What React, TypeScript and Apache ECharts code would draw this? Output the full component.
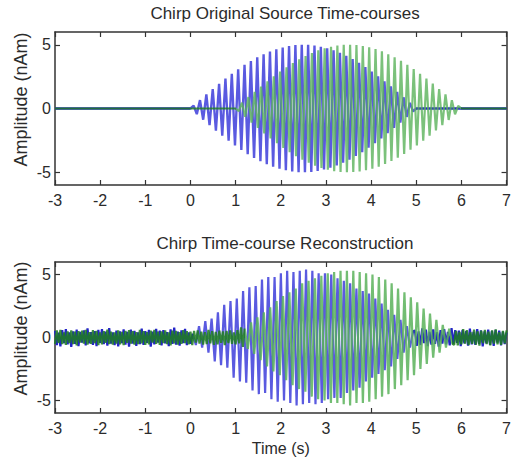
import React, { useEffect, useRef } from "react";
import * as echarts from "echarts";

// ---------- text ----------
const topTitle = "Chirp Original Source Time-courses";
const bottomTitle = "Chirp Time-course Reconstruction";
const yName = "Amplitude (nAm)";
const xName = "Time (s)";

// ---------- axes ----------
const xTicks = [-3, -2, -1, 0, 1, 2, 3, 4, 5, 6, 7];
const yTicks = [-5, 0, 5];
const xRange = [xTicks[0], xTicks[xTicks.length - 1]];
const yRange = [-6, 6];

// ---------- top panel (original sources) ----------
// blue source: flat, then chirp on [0, 5] (extrema), then flat
const blueTopSpan = [0, 5];
const blueTopChirp = [
  0, 0.22, -0.44, 0.66, -0.88, 1.1, -1.31, 1.52, -1.73, 1.94, -2.14, 2.34, -2.53, 2.72, -2.9, 3.08,
  -3.25, 3.42, -3.58, 3.73, -3.87, 4.01, -4.13, 4.25, -4.37, 4.47, -4.57, 4.65, -4.73, 4.79, -4.85,
  4.9, -4.94, 4.97, -4.99, 5.0, -5.0, 4.99, -4.97, 4.94, -4.9, 4.85, -4.79, 4.73, -4.65, 4.57, -4.47,
  4.37, -4.25, 4.13, -4.01, 3.87, -3.73, 3.58, -3.42, 3.25, -3.08, 2.9, -2.72, 2.53, -2.34, 2.14,
  -1.94, 1.73, -1.52, 1.31, -1.1, 0.88, -0.66, 0.44, -0.22, 0,
];
// green source: chirp on [1, 6]
const greenTopSpan = [1, 6];
const greenTopChirp = [
  0, -0.2, 0.45, -0.65, 0.9, -1.1, 1.3, -1.53, 1.72, -1.95, 2.13, -2.35, 2.52, -2.73, 2.9, -3.1,
  3.24, -3.43, 3.57, -3.74, 3.86, -4.02, 4.12, -4.26, 4.36, -4.48, 4.56, -4.66, 4.72, -4.8, 4.84,
  -4.91, 4.93, -4.98, 4.99, -5.0, 5.0, -4.98, 4.97, -4.93, 4.9, -4.84, 4.8, -4.72, 4.66, -4.56, 4.48,
  -4.36, 4.26, -4.12, 4.02, -3.86, 3.74, -3.57, 3.43, -3.24, 3.1, -2.9, 2.73, -2.52, 2.35, -2.13,
  1.95, -1.72, 1.53, -1.3, 1.1, -0.9, 0.65, -0.45, 0.2, 0,
];

// ---------- bottom panel (reconstruction) ----------
const blueNoisePreSpan = [-3, 0];
const blueNoisePre = [
  0.52, -0.61, 0.38, -0.7, 0.58, -0.44, 0.66, -0.55, 0.41, -0.74, 0.49, -0.5, 0.63, -0.68, 0.45,
  -0.4, 0.57, -0.62, 0.72, -0.47, 0.43, -0.58, 0.51, -0.69, 0.6, -0.42, 0.67, -0.53, 0.46, -0.64,
  0.75, -0.49, 0.4, -0.6, 0.55, -0.71, 0.48, -0.45, 0.65, -0.57, 0.44, -0.73, 0.62, -0.48, 0.53,
  -0.66, 0.41, -0.52, 0.7, -0.59, 0.5, -0.43, 0.6, -0.72, 0.47, -0.55, 0.68, -0.4, 0.54, -0.63,
  0.58, -0.46, 0.42, -0.69, 0.64, -0.51, 0.78, -0.57, 0.46, -0.65, 0.56, -0.44, 0.69, -0.6, 0.4, -0.5,
];
const blueRecSpan = [0.05, 4.93];
const blueRecChirp = [
  0.3, -0.6, 0.9, -0.8, 1.3, -1.2, 1.5, -1.9, 2.0, -2.2, 2.6, -2.4, 2.9, -3.2, 3.1, -3.5, 3.7, -3.6,
  4.0, -4.2, 4.1, -4.5, 4.6, -4.4, 4.8, -4.9, 4.8, -5.1, 5.1, -5.0, 5.3, -5.2, 5.2, -5.4, 5.3, -5.3,
  5.4, -5.2, 5.3, -5.3, 5.1, -5.2, 5.1, -4.9, 5.0, -4.8, 4.7, -4.8, 4.5, -4.4, 4.3, -4.2, 3.9, -4.0,
  3.7, -3.5, 3.5, -3.2, 3.1, -2.9, 2.7, -2.6, 2.2, -2.3, 1.8, -1.7, 1.4, -1.2, 0.9, -0.8, 0.5,
];
const blueNoisePostSpan = [4.97, 7];
const blueNoisePost = [
  0.55, -0.66, 0.48, -0.6, 0.72, -0.44, 0.62, -0.69, 0.47, -0.57, 0.65, -0.51, 0.42, -0.73, 0.59,
  -0.49, 0.67, -0.55, 0.45, -0.63, 0.74, -0.52, 0.58, -0.43, 0.54, -0.68, 0.61, -0.47, 0.5, -0.64,
  0.7, -0.54, 0.44, -0.59, 0.66, -0.5, 0.57, -0.71, 0.49, -0.46, 0.63, -0.58, 0.52, -0.67, 0.6,
  -0.41, 0.55, -0.62, 0.46, -0.53, 0.4,
];
const greenNoisePreSpan = [-3, 1.16];
const greenNoisePre = [
  -0.5, 0.56, -0.42, 0.6, -0.53, 0.4, -0.58, 0.49, -0.44, 0.57, -0.52, 0.46, -0.62, 0.51, -0.4,
  0.55, -0.48, 0.6, -0.56, 0.43, -0.5, 0.58, -0.45, 0.53, -0.6, 0.41, -0.55, 0.5, -0.43, 0.62,
  -0.52, 0.47, -0.57, 0.4, -0.49, 0.56, -0.54, 0.44, -0.61, 0.52, -0.42, 0.58, -0.48, 0.5, -0.57,
  0.42, -0.53, 0.6, -0.46, 0.51, -0.59, 0.43, -0.55, 0.54, -0.4, 0.61, -0.5, 0.46, -0.58, 0.48,
  -0.44, 0.56, -0.53, 0.41, -0.62, 0.55, -0.47, 0.52, -0.57, 0.43, -0.51, 0.59, -0.45, 0.5, -0.55,
  0.46, -0.6, 0.53, -0.41, 0.57, -0.49, 0.47, -0.56, 0.42, -0.52, 0.6, -0.46, 0.51, -0.58, 0.44,
  -0.54, 0.55, -0.43, 0.49, -0.61, 0.52, -0.45, 0.57, -0.5, 0.41, -0.55, 0.58, -0.47, 0.8, -0.75,
];
const greenRecSpan = [1.2, 5.8];
const greenRecChirp = [
  0.7, -0.9, 1.2, -1.3, 1.6, -1.8, 2.0, -2.3, 2.4, -2.7, 2.9, -3.0, 3.3, -3.4, 3.6, -3.8, 3.9, -4.1,
  4.3, -4.3, 4.5, -4.7, 4.7, -4.9, 4.9, -5.0, 5.1, -5.2, 5.2, -5.2, 5.3, -5.3, 5.3, -5.4, 5.3, -5.2,
  5.2, -5.2, 5.1, -5.1, 5.0, -4.9, 4.8, -4.7, 4.6, -4.5, 4.3, -4.1, 3.9, -3.8, 3.6, -3.4, 3.2, -3.0,
  2.8, -2.5, 2.3, -2.1, 1.9, -1.6, 1.4, -1.2, 1.0, -0.8, 0.7, -0.5,
];
const greenNoisePostSpan = [5.84, 7];
const greenNoisePost = [
  -0.58, 0.52, -0.63, 0.45, -0.54, 0.66, -0.48, 0.59, -0.61, 0.42, -0.51, 0.62, -0.56, 0.49, -0.65,
  0.55, -0.44, 0.6, -0.53, 0.47, -0.62, 0.57, -0.49, 0.64, -0.55, 0.43, -0.59, 0.52, -0.46, 0.56,
];

// ---------- helpers ----------
function seg(span: number[], values: number[]): number[][] {
  const n = values.length;
  const step = (span[1] - span[0]) / (n - 1);
  return values.map((v, i) => [span[0] + i * step, v]);
}

const FONT = "'Liberation Sans', Arial, Helvetica, sans-serif";
const TXT = "#2b2b2b";
const AXC = "#333333";
const BLUE_DARK = "#2424c8";
const BLUE_LIGHT = "#5a5ae0";
const GREEN_DARK = "#1e7e1e";
const GREEN_LIGHT = "#5ab25a";

function xAxes(gridIndex: number, showName: boolean) {
  const common = {
    type: "value",
    gridIndex,
    min: xRange[0],
    max: xRange[1],
    interval: 1,
    splitLine: { show: false },
    axisLine: { show: true, onZero: false, lineStyle: { color: AXC, width: 1.5 } },
    axisTick: { show: true, inside: true, length: 5, lineStyle: { color: AXC, width: 1.2 } },
  };
  return [
    {
      ...common,
      position: "bottom",
      axisLabel: {
        show: true,
        margin: 7,
        fontSize: 16,
        fontFamily: FONT,
        color: TXT,
        showMinLabel: true,
        showMaxLabel: true,
      },
      name: showName ? xName : "",
      nameLocation: "middle",
      nameGap: 27,
      nameMoveOverlap: false,
      nameTextStyle: { fontSize: 16, fontFamily: FONT, color: TXT },
    },
    { ...common, position: "top", axisLabel: { show: false } },
  ];
}

function yAxes(gridIndex: number) {
  const common = {
    type: "value",
    gridIndex,
    min: yRange[0],
    max: yRange[1],
    splitLine: { show: false },
    axisLine: { show: true, onZero: false, lineStyle: { color: AXC, width: 1.5 } },
    axisTick: {
      show: true,
      inside: true,
      length: 5,
      customValues: yTicks,
      lineStyle: { color: AXC, width: 1.2 },
    },
  };
  return [
    {
      ...common,
      position: "left",
      axisLabel: {
        show: true,
        customValues: yTicks,
        margin: 4,
        fontSize: 16,
        fontFamily: FONT,
        color: TXT,
      },
      name: yName,
      nameLocation: "middle",
      nameGap: 25,
      nameRotate: 90,
      nameMoveOverlap: false,
      nameTextStyle: { fontSize: 18, fontFamily: FONT, color: TXT, padding: [0, 0, 0, 18] },
    },
    { ...common, position: "right", axisLabel: { show: false } },
  ];
}

function lineSeries(
  name: string,
  data: number[][],
  xi: number,
  yi: number,
  width: number,
  opacity: number
) {
  return {
    name,
    type: "line",
    xAxisIndex: xi,
    yAxisIndex: yi,
    data,
    showSymbol: false,
    symbol: "none",
    smooth: false,
    lineStyle: { width, join: "bevel", opacity },
    emphasis: { disabled: true },
    silent: true,
  };
}

function colorBands(seriesIndex: number, from: number, to: number, light: string, dark: string) {
  return {
    type: "piecewise",
    show: false,
    seriesIndex,
    dimension: 0,
    pieces: [
      { max: from, color: dark },
      { min: from, max: to, color: light },
      { min: to, color: dark },
    ],
  };
}

export default function App() {
  const ref = useRef<HTMLDivElement>(null);

  useEffect(() => {
    if (!ref.current) return;
    const chart = echarts.init(ref.current, undefined, { renderer: "svg" });

    const blueTop = [[xRange[0], 0], ...seg(blueTopSpan, blueTopChirp), [xRange[1], 0]];
    const greenTop = [[xRange[0], 0], ...seg(greenTopSpan, greenTopChirp), [xRange[1], 0]];
    const blueRec = [
      ...seg(blueNoisePreSpan, blueNoisePre),
      ...seg(blueRecSpan, blueRecChirp),
      ...seg(blueNoisePostSpan, blueNoisePost),
    ];
    const greenRec = [
      ...seg(greenNoisePreSpan, greenNoisePre),
      ...seg(greenRecSpan, greenRecChirp),
      ...seg(greenNoisePostSpan, greenNoisePost),
    ];

    chart.setOption({
      animation: false,
      backgroundColor: "#ffffff",
      title: [
        {
          text: topTitle,
          left: 280,
          top: 0,
          textAlign: "center",
          textStyle: { fontSize: 17, fontWeight: "normal", fontFamily: FONT, color: TXT },
        },
        {
          text: bottomTitle,
          left: 280,
          top: 230,
          textAlign: "center",
          textStyle: { fontSize: 17, fontWeight: "normal", fontFamily: FONT, color: TXT },
        },
      ],
      grid: [
        { left: 55, top: 32, width: 458, height: 153, containLabel: false },
        { left: 55, top: 262, width: 458, height: 151, containLabel: false },
      ],
      xAxis: [...xAxes(0, false), ...xAxes(1, true)],
      yAxis: [...yAxes(0), ...yAxes(1)],
      visualMap: [
        colorBands(0, blueTopSpan[0], blueTopSpan[1], BLUE_LIGHT, BLUE_DARK),
        colorBands(1, greenTopSpan[0], greenTopSpan[1], GREEN_LIGHT, GREEN_DARK),
        colorBands(2, blueRecSpan[0], blueRecSpan[1], BLUE_LIGHT, BLUE_DARK),
        colorBands(3, greenRecSpan[0], greenRecSpan[1], GREEN_LIGHT, GREEN_DARK),
      ],
      series: [
        lineSeries("blue source", blueTop, 0, 0, 2.4, 1),
        lineSeries("green source", greenTop, 0, 0, 2.2, 0.8),
        lineSeries("blue reconstruction", blueRec, 2, 2, 2.2, 1),
        lineSeries("green reconstruction", greenRec, 2, 2, 2.2, 0.85),
      ],
    });

    return () => chart.dispose();
  }, []);

  return (
    <div
      ref={ref}
      style={{ position: "fixed", left: 0, top: 0, width: 514, height: 460, background: "#fff" }}
    />
  );
}
